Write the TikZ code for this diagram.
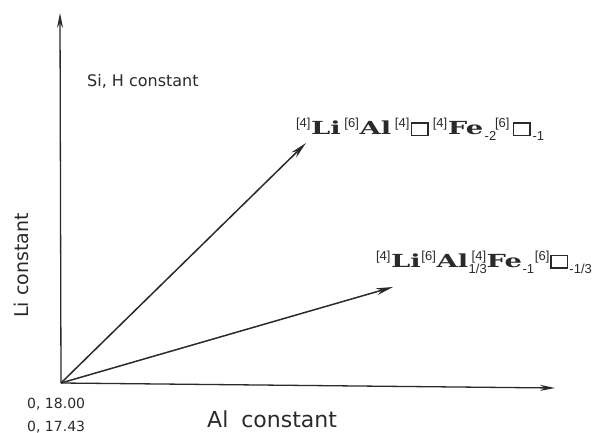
\documentclass[tikz,border=0pt]{standalone}
\usepackage{graphicx}
\usepackage{fontspec}
\setmainfont{DejaVu Sans}
\newfontfamily\slabfont{DejaVu Serif}
\newfontfamily\helvfont{Liberation Sans}
\usetikzlibrary{arrows.meta}

% site prefixes, indices, element symbols and vacancy box
\newcommand\hiidx[1]{\kern0.8pt\raisebox{7pt}{\helvfont\fontsize{13}{13}\selectfont #1}\kern0.6pt}
\newcommand\lowidx[1]{\kern0.5pt\raisebox{-6pt}{\helvfont\fontsize{13}{13}\selectfont #1}}
\newcommand\elem[1]{\scalebox{1.52}[1]{\slabfont\bfseries\fontsize{18}{18}\selectfont #1}}
\newcommand\vacbox{\kern0.5pt{\setlength\fboxrule{1.5pt}\setlength\fboxsep{0pt}\fbox{\rule{0pt}{11pt}\hspace{15pt}}}\kern0.5pt}

\definecolor{ink}{HTML}{2A2A2A}

\begin{document}
\begin{tikzpicture}[x=1pt,y=-1pt,
    axis/.style={line width=1.3pt,draw=ink,-{Stealth[length=15pt,width=6pt]}},
    vec/.style={line width=1.5pt,draw=ink,-{Stealth[length=17pt,width=7pt]}},
    txt/.style={text=ink,inner sep=0pt,font=\fontsize{16}{16}\selectfont},
    formula/.style={text=ink,inner sep=0pt,anchor=base west}]
  \useasboundingbox (0,0) rectangle (603,433);

  % origin and axis ends
  \coordinate (O) at (61,383);
  \coordinate (ytop) at (60,13);
  \coordinate (xend) at (555,388);
  \coordinate (v1) at (306,143);
  \coordinate (v2) at (393,287);

  \draw[axis] (O) -- (ytop);
  \draw[axis] (O) -- (xend);
  \draw[vec] (O) -- (v1);
  \draw[vec] (O) -- (v2);

  % formulae at the vector heads
  \node[formula] (f1) at (295,135)
    {\hiidx{[4]}\elem{Li}\kern3pt\hiidx{[6]}\elem{Al}\kern3pt\hiidx{[4]}\vacbox\kern3pt\hiidx{[4]}\elem{Fe}\kern1pt\lowidx{-2}\kern-2pt\hiidx{[6]}\kern2pt\vacbox\kern1pt\lowidx{-1}};
  \node[formula] (f2) at (375,267)
    {\hiidx{[4]}\elem{Li}\hiidx{[6]}\elem{Al}\lowidx{1/3}\llap{\hiidx{[4]}}\elem{Fe}\lowidx{-1}\hiidx{[6]}\vacbox\lowidx{-1/3}};

  % axis and condition labels
  \node[txt,anchor=base west] (si) at (87,87) {Si, H constant};
  \node[txt,anchor=base west,font=\fontsize{22}{22}\selectfont] (al) at (207,427) {Al\hspace{6pt} constant};
  \node[txt,anchor=base west,rotate=90,font=\fontsize{19}{19}\selectfont] (li) at (28,318) {Li constant};
  \node[txt,anchor=base west,font=\fontsize{14}{14}\selectfont] (c1) at (27,408) {0, 18.00};
  \node[txt,anchor=base west,font=\fontsize{14}{14}\selectfont] (c2) at (27,431) {0, 17.43};
\end{tikzpicture}
\end{document}
